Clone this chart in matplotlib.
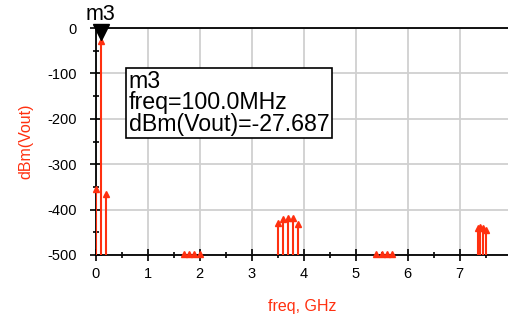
import matplotlib.pyplot as plt
import numpy as np

plt.rcParams['font.family'] = ['Liberation Sans', 'DejaVu Sans']
plt.rcParams['axes.unicode_minus'] = False

# spectrum of Vout (freq in GHz, power in dBm)
freq_ghz = [0.0, 0.1, 0.2,
            1.7, 1.8, 1.9, 2.0,
            3.5, 3.6, 3.7, 3.8, 3.9,
            5.4, 5.5, 5.6, 5.7,
            7.35, 7.4, 7.45, 7.5]
dbm_vout = [-355, -27.687, -365,
            -497, -498, -497, -498,
            -429, -421, -418, -418, -432,
            -498, -497, -498, -497,
            -440, -438, -441, -445]

marker_name = 'm3'
marker_freq = 0.1
marker_text = 'm3\nfreq=100.0MHz\ndBm(Vout)=-27.687'

red = '#ff3010'

fig = plt.figure(figsize=(5.08, 3.2), dpi=100)
ax = fig.add_axes([95.5 / 508, 1 - 255 / 320, 412.5 / 508, 227 / 320])

ax.set_xlim(0, 412.5 / 52)
ax.set_ylim(-500, 0)

# stems from the bottom of the plot
ax.vlines(freq_ghz, -500, dbm_vout, color=red, lw=1.5, zorder=3)
ax.plot(freq_ghz, dbm_vout, ls='none', marker='^', ms=4.5, color=red,
        zorder=4, clip_on=False)

ax.set_xticks(np.arange(0, 8, 1))
ax.set_xticks(np.arange(0.5, 8, 1), minor=True)
ax.set_yticks(np.arange(-500, 1, 100))
ax.set_yticks(np.arange(-450, 0, 100), minor=True)
ax.grid(True, which='major', color='#d0d0d0', lw=1.3)
ax.set_axisbelow(True)

ax.tick_params(which='major', direction='inout', length=9, width=1.2,
               labelsize=10.5, colors='black')
ax.tick_params(axis='y', which='major', pad=9)
ax.tick_params(axis='x', which='major', pad=4)
ax.tick_params(which='minor', direction='inout', length=5, width=1.2)
ax.spines['right'].set_visible(False)
for s in ['left', 'bottom', 'top']:
    ax.spines[s].set_linewidth(1.3)

ax.set_xlabel('freq, GHz', color=red, fontsize=11.5, labelpad=13)
ax.set_ylabel('dBm(Vout)', color=red, fontsize=11.5, labelpad=10)

# marker m3
ax.plot([marker_freq], [-8], marker='v', ms=11, color='black',
        clip_on=False, zorder=6)
ax.text(marker_freq, 6, marker_name, ha='center', va='bottom',
        fontsize=15.5, clip_on=False)
ax.text(0.64, -93, marker_text, ha='left', va='top', fontsize=16.7,
        linespacing=0.9, zorder=7,
        bbox=dict(boxstyle='square,pad=0.1', fc='white', ec='black', lw=1.2))

fig.savefig('out.png', dpi=100)
